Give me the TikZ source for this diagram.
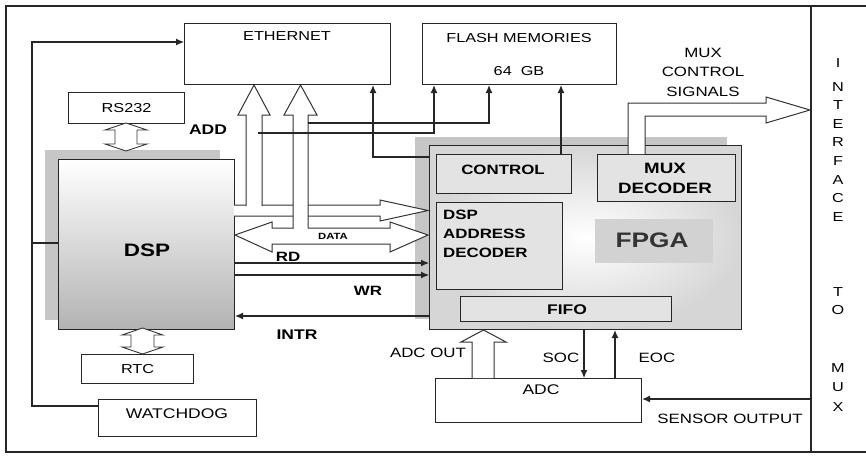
\documentclass[tikz,border=0pt]{standalone}
\usepackage{fontspec}
\setmainfont{Liberation Sans}[FakeStretch=1.25]
\usetikzlibrary{arrows.meta}
\begin{document}
\begin{tikzpicture}[x=1pt,y=-1pt,
  box/.style={draw=black!85, line width=1.1pt, fill=white, inner sep=0pt, anchor=north west},
  inbox/.style={box, fill=gray!22},
  arr/.style={-{Latex[length=8pt,width=7pt]}, line width=1.1pt, draw=black!85},
  hollow/.style={draw=black!80, line width=1pt, fill=white},
  shadowfill/.style={fill=gray!45},
  t/.style={inner sep=0pt, font=\fontsize{13}{13}\selectfont},
  tb/.style={inner sep=0pt, font=\bfseries\fontsize{13.5}{13.5}\selectfont}]
\useasboundingbox (0,0) rectangle (866,455);
% frame
\draw[line width=2.5pt, black!85] (866,6) -- (6,6) -- (6,452) -- (866,452);
\draw[line width=1.4pt, black!85] (811,6) -- (811,452);
% boxes
\node[box, minimum width=206pt, minimum height=61pt] (eth) at (184,23) {};
\node[box, minimum width=194pt, minimum height=61pt] (flash) at (422,23) {};
\node[box, minimum width=116pt, minimum height=31pt] (rs) at (68,92) {};
\fill[shadowfill] (45,150) rectangle (220,320);
\node[box, top color=white, bottom color=gray!60, minimum width=176pt, minimum height=170pt] (dsp) at (58,159) {};
\node[box, minimum width=112pt, minimum height=29pt] (rtc) at (81,354) {};
\node[box, minimum width=158pt, minimum height=37pt] (wd) at (98,399) {};
\fill[shadowfill] (415,137) rectangle (727,319);
\node[box, inner color=white, outer color=gray!32, minimum width=312pt, minimum height=184pt] (fpga) at (429,145) {};
\node[inbox, minimum width=135pt, minimum height=39pt] (ctrl) at (436,154) {};
\node[inbox, minimum width=138pt, minimum height=47pt] (muxd) at (597,154) {};
\node[inbox, minimum width=126pt, minimum height=87pt] (dspad) at (436,202) {};
\node[anchor=north west, fill=gray!35, minimum width=118pt, minimum height=44pt, inner sep=0pt] (fpgal) at (595,219) {};
\node[inbox, minimum width=211pt, minimum height=25pt] (fifo) at (460,296) {};
\node[box, minimum width=206pt, minimum height=44pt] (adc) at (435,378) {};
% texts in boxes
\node[t] (ethT) at (287,36) {ETHERNET};
\node[t] (flT1) at (519,38) {FLASH MEMORIES};
\node[t] (flT2) at (519,71) {64~~GB};
\node[t] at (rs.center) (rsT) {RS232};
\node[tb, font=\bfseries\fontsize{18}{18}\selectfont] (dspT) at (147,250) {DSP};
\node[t] at (rtc.center) (rtcT) {RTC};
\node[t, font=\fontsize{14}{14}\selectfont] (wdT) at (177,414) {WATCHDOG};
\node[tb] (ctrlT) at (503,170) {CONTROL};
\node[tb, font=\bfseries\fontsize{15}{15}\selectfont] (muxT1) at (665,168) {MUX};
\node[tb, font=\bfseries\fontsize{15}{15}\selectfont] (muxT2) at (665,188) {DECODER};
\node[tb, anchor=west] (dadT1) at (443,215) {DSP};
\node[tb, anchor=west] (dadT2) at (443,234) {ADDRESS};
\node[tb, anchor=west] (dadT3) at (443,253) {DECODER};
\node[tb, font=\bfseries\fontsize{21}{21}\selectfont, text=black!80] (fpgaT) at (652,240) {FPGA};
\node[tb, font=\bfseries\fontsize{14}{14}\selectfont] (fifoT) at (567,310) {FIFO};
\node[t, font=\fontsize{14}{14}\selectfont] (adcT) at (541,390) {ADC};
% hollow arrows
\draw[hollow] (234,205) -- (380,205) -- (380,200) -- (428,210.5) -- (380,221) -- (380,216) -- (234,216);
\fill[white] (246.5,120) rectangle (261.5,206.5);
\draw[hollow] (246,206) -- (246,115) -- (238,115) -- (254,85) -- (270,115) -- (262,115) -- (262,206);
\draw[hollow] (235,235) -- (272,222) -- (272,228) -- (390,228) -- (390,222) -- (428,235) -- (390,252) -- (390,244) -- (272,244) -- (272,252) -- cycle;
\fill[white] (293.5,120) rectangle (307.5,228.5);
\draw[hollow] (293,228) -- (293,115) -- (284,115) -- (300.5,85) -- (317,115) -- (308,115) -- (308,228);
% mux control signals arrow
\fill[white] (628.5,101) rectangle (644.5,154);
\draw[hollow] (628,154) -- (628,103) -- (766,103) -- (766,97) -- (810,110) -- (766,123) -- (766,116) -- (645,116) -- (645,154);
% ADC OUT arrow
\fill[white] (472.5,340) rectangle (493.5,378);
\draw[hollow] (472,378) -- (472,342) -- (461,342) -- (483.5,330) -- (506,342) -- (494,342) -- (494,378);
% double arrows RS232 / RTC
\draw[hollow, line width=0.9pt] (126,123) -- (147,130) -- (137,130) -- (137,144) -- (147,144) -- (126,151) -- (105,144) -- (115,144) -- (115,130) -- (105,130) -- cycle;
\draw[hollow, line width=0.9pt] (142.5,328) -- (163,335) -- (154,335) -- (154,347) -- (163,347) -- (142.5,354) -- (122,347) -- (131,347) -- (131,335) -- (122,335) -- cycle;
% connectors
\draw[arr] (wd.west |- 0,406) -- (32,406) |- (eth.west |- 0,42);
\coordinate (wdtap) at (32,243);
\draw[line width=1.1pt, black!85] (wdtap) -- (dsp.west |- wdtap);
\draw[arr] (308,123) -| (489,0 |- flash.south);
\draw[arr] (258,133) -| (434,0 |- flash.south);
\draw[arr] (fpga.west |- 0,157) -| (373,0 |- eth.south);
\draw[arr] (561,0 |- ctrl.north) -- (561,0 |- flash.south);
\draw[arr] (dsp.east |- 0,263) -- (fpga.west |- 0,263);
\draw[arr] (dsp.east |- 0,275) -- (fpga.west |- 0,275);
\draw[arr] (fpga.west |- 0,316) -- (dsp.east |- 0,316);
\draw[arr] (584,0 |- fpga.south) -- (584,0 |- adc.north);
\draw[arr] (615,0 |- adc.north) -- (615,0 |- fpga.south);
\draw[arr] (811,399) -- (adc.east |- 0,399);
% labels
\node[tb, font=\bfseries\fontsize{14}{14}\selectfont] (addL) at (208,130) {ADD};
\node[tb, font=\bfseries\fontsize{9}{9}\selectfont] (dataL) at (333,236) {DATA};
\node[tb] (rdL) at (288,257) {RD};
\node[tb] (wrL) at (368,291) {WR};
\node[tb, font=\bfseries\fontsize{14}{14}\selectfont] (intrL) at (297,335) {INTR};
\node[t, font=\fontsize{13.5}{13.5}\selectfont] (mcs1) at (703,53) {MUX};
\node[t, font=\fontsize{13.5}{13.5}\selectfont] (mcs2) at (703,72) {CONTROL};
\node[t, font=\fontsize{13.5}{13.5}\selectfont] (mcs3) at (703,92) {SIGNALS};
\node[t, font=\fontsize{13.5}{13.5}\selectfont] (adcoutL) at (428,353) {ADC OUT};
\node[t, font=\fontsize{13.5}{13.5}\selectfont] (socL) at (561,358) {SOC};
\node[t, font=\fontsize{13.5}{13.5}\selectfont] (eocL) at (657,358) {EOC};
\node[t, font=\fontsize{13.5}{13.5}\selectfont] (sensL) at (730,419) {SENSOR OUTPUT};
% interface text
\foreach \ch/\yy [count=\i] in {I/63,N/87,T/105,E/124,R/142,F/161,A/180,C/198,E/217,T/292,O/310,M/368,U/387,X/407}
  \node[t, font=\fontsize{13}{13}\selectfont] (if\i) at (838,\yy) {\ch};
\end{tikzpicture}
\end{document}
